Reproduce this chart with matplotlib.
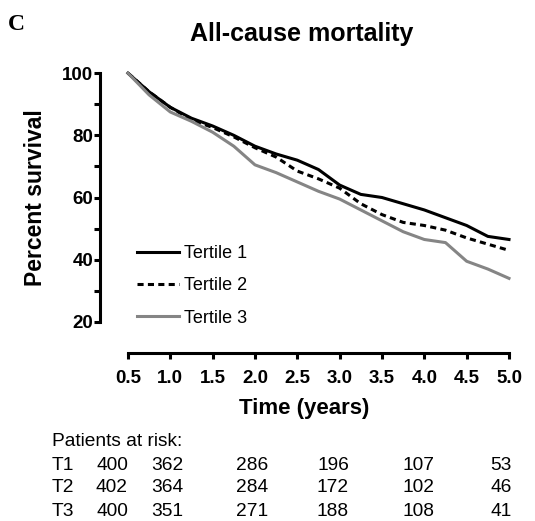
import numpy as np
import matplotlib
matplotlib.use('Agg')
import matplotlib.pyplot as plt
from matplotlib.ticker import FixedLocator

plt.rcParams['font.family'] = ['Liberation Sans', 'DejaVu Sans']

# survival curves (time in years, percent survival)
time = [0.5, 0.75, 1.0, 1.25, 1.5, 1.75, 2.0, 2.25, 2.5, 2.75,
        3.0, 3.25, 3.5, 3.75, 4.0, 4.25, 4.5, 4.75, 5.0]
tertile1 = [100, 94, 89, 85.5, 83, 80, 76.5, 74, 72, 69,
            64, 61, 60, 58, 56, 53.5, 51, 47.5, 46.5]
tertile2 = [100, 94, 89, 85, 82.5, 79.5, 76, 73, 68.5, 66,
            63, 58, 54.5, 52, 51, 49.5, 47, 45, 43]
tertile3 = [100, 93, 87.5, 84.5, 81, 76.5, 70.5, 68, 65, 62,
            59.5, 56, 52.5, 49, 46.5, 45.5, 39.5, 37, 34]

labels = ['Tertile 1', 'Tertile 2', 'Tertile 3']

# patients at risk table
risk_rows = ['T1', 'T2', 'T3']
risk_counts = [
    [400, 362, 286, 196, 107, 53],
    [402, 364, 284, 172, 102, 46],
    [400, 351, 271, 188, 108, 41],
]

W, H = 535, 521
fig = plt.figure(figsize=(W / 100, H / 100), dpi=100)


def fx(px):
    return px / W


def fy(py):
    return 1 - py / H


ax = fig.add_axes([fx(100), fy(353), fx(509) - fx(100), fy(70) - fy(353)])

ax.plot(time, tertile1, color='black', lw=2.2, label=labels[0], clip_on=False)
ax.plot(time, tertile2, color='black', lw=2.2, ls=(0, (2, 1.4)), label=labels[1], clip_on=False)
ax.plot(time, tertile3, color='#858585', lw=2.2, label=labels[2], clip_on=False)

ax.set_xlim(0.17, 5.0)
ax.set_ylim(10, 101)

for s in ['top', 'right']:
    ax.spines[s].set_visible(False)
ax.spines['left'].set_bounds(20, 100)
ax.spines['bottom'].set_bounds(0.5, 5.0)
ax.spines['left'].set_linewidth(2.2)
ax.spines['bottom'].set_linewidth(2.2)

ax.set_yticks([20, 40, 60, 80, 100])
ax.yaxis.set_minor_locator(FixedLocator([30, 50, 70, 90]))
ax.set_xticks(np.arange(0.5, 5.01, 0.5))
ax.set_xticklabels([f'{v:.1f}' for v in np.arange(0.5, 5.01, 0.5)])
ax.tick_params(axis='both', which='major', length=4, width=2.2, labelsize=13.5, pad=1)
ax.tick_params(axis='y', which='minor', length=4, width=2.2)
ax.tick_params(axis='x', pad=8)
for t in ax.get_xticklabels() + ax.get_yticklabels():
    t.set_fontweight('bold')

ax.set_ylabel('Percent survival', fontsize=16.5, fontweight='bold')
ax.yaxis.set_label_coords(-0.13, 0.548)
ax.set_xlabel('Time (years)', fontsize=16, fontweight='bold', labelpad=8)

ax.legend(loc='upper left', bbox_to_anchor=(fx(137), fy(245)), bbox_transform=fig.transFigure,
          frameon=False, fontsize=13, handlelength=2.3, handletextpad=0.3,
          labelspacing=0.85, borderpad=0, borderaxespad=0)

fig.text(fx(302), fy(34), 'All-cause mortality', ha='center', va='center',
         fontsize=18, fontweight='bold')
fig.text(fx(8), fy(25), 'C', ha='left', va='center', fontsize=17, fontweight='bold',
         family=['Liberation Serif', 'DejaVu Serif'])

# risk table
fig.text(fx(52), fy(442), 'Patients at risk:', ha='left', va='center', fontsize=13.8)
col_right = [128, 183, 268, 349, 434, 512]
row_y = [465, 488, 511]
for name, counts, yy in zip(risk_rows, risk_counts, row_y):
    fig.text(fx(52), fy(yy), name, ha='left', va='center', fontsize=13.8)
    for c, xr in zip(counts, col_right):
        fig.text(fx(xr), fy(yy), str(c), ha='right', va='center', fontsize=13.8)

fig.savefig('out.png', dpi=100)
